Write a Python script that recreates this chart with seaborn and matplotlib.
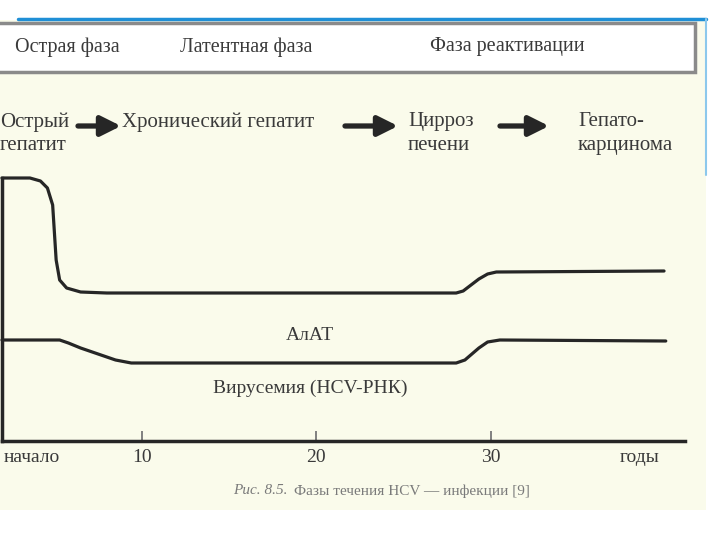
import matplotlib
matplotlib.use("Agg")
import matplotlib.pyplot as plt
import seaborn as sns
import pandas as pd
from matplotlib.patches import Rectangle

# ДАННЫЕ (годы от начала инфекции, условные единицы уровня)
years_upper = [2.0, 3.6, 4.2, 4.6, 4.9, 5.1, 5.3, 5.7, 6.5, 8.0, 28.0, 28.4, 29.3, 29.8, 30.3, 39.9]
level_upper = [262, 262, 259, 252, 235, 180, 160, 152, 148, 147, 147, 149, 161, 166, 168, 169]

years_lower = [2.0, 5.3, 5.8, 6.5, 8.5, 9.4, 28.0, 28.5, 29.3, 29.8, 30.5, 40.0]
level_lower = [100, 100, 97, 92, 80, 77, 77, 80, 92, 98, 100, 99]

year_ticks = [10, 20, 30]
year_labels = ["10", "20", "30"]
end_labels = ["начало", "годы"]
end_positions = [3.7, 38.5]

phases = ["Острая фаза", "Латентная фаза", "Фаза реактивации"]
stages = ["Острый\nгепатит", "Хронический гепатит", "Цирроз\nпечени", "Гепато-\nкарцинома"]

# 1. СТИЛЬ
sns.set_theme(style="white")
plt.rcParams["font.family"] = ["Liberation Serif", "DejaVu Serif"]

INK = "#262626"
TXT = "#3a3a3a"
W, H = 720, 540


def px(x, y):
    return (x / W, 1 - y / H)


fig = plt.figure(figsize=(7.2, 5.4), dpi=100)
fig.patch.set_facecolor("white")

# фон отсканированного рисунка
fig.add_artist(Rectangle(px(0, 510), 706 / W, 490 / H, transform=fig.transFigure,
                         facecolor="#fafbeb", edgecolor="none", zorder=0))
fig.add_artist(plt.Line2D([18 / W, 706 / W], [1 - 19 / H, 1 - 19 / H], transform=fig.transFigure,
                          color="#1f8fd6", lw=2.5))
fig.add_artist(plt.Line2D([706 / W, 706 / W], [1 - 19 / H, 1 - 175 / H], transform=fig.transFigure,
                          color="#8cc8ec", lw=1.5))

# 2. РАМКА С ФАЗАМИ
fig.add_artist(Rectangle(px(-5, 72), 700 / W, 49 / H, transform=fig.transFigure,
                         facecolor="white", edgecolor="#8a8a8a", lw=2.5, zorder=1))
for name, x in zip(phases, [15, 180, 430]):
    fig.text(*px(x, 47), name, fontsize=14.5, color=TXT, ha="left", va="center")

# 3. СТАДИИ ЗАБОЛЕВАНИЯ
for name, x in zip(stages, [0, 122, 408, 578]):
    fig.text(*px(x, 112), name, fontsize=15, color=TXT, ha="left", va="top", linespacing=1.35)

ax = fig.add_axes([2 / W, 1 - 441 / H, 683 / W, 263 / H])
ax.set_facecolor("none")

for x0, x1 in [(78, 121), (345, 398), (500, 549)]:
    ax.annotate("", xy=px(x1, 126), xytext=px(x0, 126), xycoords="figure fraction",
                arrowprops=dict(arrowstyle="-|>,head_length=1.0,head_width=0.5",
                                lw=3.8, color=INK, shrinkA=0, shrinkB=0))

# 4. КРИВЫЕ
df_up = pd.DataFrame({"год": years_upper, "уровень": level_upper})
df_low = pd.DataFrame({"год": years_lower, "уровень": level_lower})
sns.lineplot(data=df_up, x="год", y="уровень", ax=ax, sort=False, estimator=None,
             color=INK, lw=2.3, clip_on=False)
sns.lineplot(data=df_low, x="год", y="уровень", ax=ax, sort=False, estimator=None,
             color=INK, lw=2.3, clip_on=False)

ax.set_xlim(2.0, 41.1)
ax.set_ylim(-1, 262)
ax.set_xlabel("")
ax.set_ylabel("")
ax.set_yticks([])

ax.set_xticks(year_ticks)
ax.set_xticklabels(year_labels)
ax.set_xticks(end_positions, minor=True)
ax.set_xticklabels(end_labels, minor=True)
ax.tick_params(axis="x", which="major", direction="in", length=7, width=1.3, color="#777777",
               labelsize=14, labelcolor=TXT, pad=6, bottom=True)
ax.tick_params(axis="x", which="minor", length=0, labelsize=14, labelcolor=TXT, pad=6)

for side in ["top", "right"]:
    ax.spines[side].set_visible(False)
for side in ["left", "bottom"]:
    ax.spines[side].set_color(INK)
    ax.spines[side].set_linewidth(2.5)

fig.text(*px(310, 335), "АлАТ", fontsize=14, color=TXT, ha="center", va="center")
fig.text(*px(310, 388), "Вирусемия (HCV-РНК)", fontsize=14, color=TXT, ha="center", va="center")

# 5. ПОДПИСЬ
fig.text(*px(233, 491), "Рис. 8.5.", fontsize=11, color="#7a7a7a", style="italic",
         ha="left", va="center")
fig.text(*px(294, 491), "Фазы течения HCV — инфекции [9]", fontsize=11, color="#7a7a7a",
         ha="left", va="center")

plt.savefig("out.png", dpi=100)
